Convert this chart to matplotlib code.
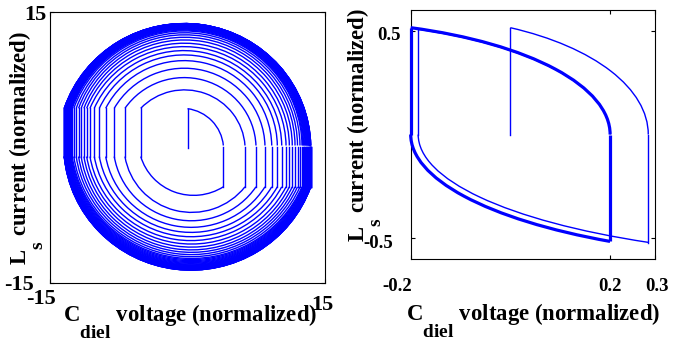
import numpy as np
import matplotlib
matplotlib.use("Agg")
import matplotlib.pyplot as plt
from matplotlib.patches import Arc
from matplotlib.transforms import ScaledTranslation

# ---------------- data: left panel (spiral start-up transient) ----------------
start_top = 4.3                 # first vertical from origin ends here
start_mid = (3.18, 2.3)         # a point on the first arc
right_x = [3.91, 6.27, 7.47, 8.45, 9.19, 9.80, 10.28, 10.75, 11.11, 11.43,
           11.73, 12.00, 12.27, 12.49, 12.58, 12.67, 12.75, 12.83, 12.90,
           12.97, 13.03, 13.09, 13.14, 13.19, 13.23, 13.27, 13.30, 13.33,
           13.355, 13.375, 13.39, 13.405, 13.415, 13.425, 13.43, 13.435, 13.44]
left_x = [-5.10, -6.82, -7.99, -8.92, -9.62, -10.17, -10.64, -11.00, -11.30,
          -11.60, -11.88, -12.14, -12.40, -12.57, -12.66, -12.74, -12.82,
          -12.89, -12.96, -13.02, -13.08, -13.13, -13.18, -13.22, -13.26,
          -13.29, -13.32, -13.345, -13.365, -13.38, -13.395, -13.41, -13.42,
          -13.43, -13.435, -13.44, -13.445]
top_y = [4.30, 6.37, 7.73, 8.77, 9.61, 10.24, 10.72, 11.16, 11.54, 11.90,
         12.20, 12.47, 12.70, 12.90, 13.00, 13.09, 13.17, 13.24, 13.31, 13.37,
         13.42, 13.47, 13.51, 13.55, 13.58, 13.61, 13.63, 13.65, 13.665,
         13.68, 13.69, 13.70, 13.705, 13.71, 13.713, 13.716, 13.72]
bottom_y = [-5.26, -7.17, -8.10, -8.83, -9.39, -9.87, -10.30, -10.68, -11.02,
            -11.33, -11.60, -11.85, -12.08, -12.28, -12.40, -12.52, -12.63,
            -12.73, -12.82, -12.91, -12.99, -13.06, -13.13, -13.19, -13.25,
            -13.30, -13.35, -13.39, -13.43, -13.46, -13.49, -13.51, -13.53,
            -13.545, -13.555, -13.56, -13.565]
right_arc_end = 0.22    # y where top arcs meet the right clamp
right_top = 0.08        # right clamp segment: from here ...
right_bottom = -4.35    # ... down to here
left_bottom = -1.0      # left clamp segment: from here ...
left_top = 4.34         # ... up to here

# ---------------- data: right panel (limit cycle) ----------------
# vertical segments: (x, y_from, y_to)
rp_start_vert = (0.0, 0.0, 0.515)
rp_trans_verts = [(0.2765, 0.0, -0.521), (-0.185, 0.0, 0.507)]
rp_cycle_verts = [(0.2, 0.0, -0.515), (-0.2, 0.0, 0.515)]
# elliptic arcs: (center_x, center_y, semi_x, semi_y, start_xy, end_xy), clockwise
rp_trans_arcs = [(-0.2, 0.0, 0.4765, 0.567, (0.0, 0.515), (0.2765, 0.0)),
                 (0.7, 0.0, 0.885, 0.592, (0.2765, -0.521), (-0.185, 0.0)),
                 (-0.4, 0.0, 0.6, 0.543, (-0.185, 0.507), (0.2, 0.0))]
rp_cycle_arcs = [(0.6, 0.0, 0.8, 0.595, (0.2, -0.515), (-0.2, 0.0)),
                 (-0.4, 0.0, 0.6, 0.546, (-0.2, 0.515), (0.2, 0.0))]

left_ticks = [-15, 15]
left_ticklabels = ["-15", "15"]
right_xticks = [-0.2, 0.2, 0.29]
right_xticklabels = ["-0.2", "0.2", "0.3"]
right_yticks = [-0.5, 0.5]
right_yticklabels = ["-0.5", "0.5"]
xlabel_text = r"C$_{\mathrm{diel}}$ voltage (normalized)"
ylabel_text = r"L$_{\mathrm{s}}$ current (normalized)"

# ---------------- style ----------------
try:  # large, deeply dropped subscripts as in the original figure
    import matplotlib._mathtext as _mt
    _mt.SHRINK_FACTOR = 0.85
    _mt.FontConstantsBase.sub1 = 1.55
except Exception:
    pass

plt.rcParams["font.family"] = ["Liberation Serif", "DejaVu Serif"]
plt.rcParams["font.weight"] = "bold"
plt.rcParams["axes.labelweight"] = "bold"
plt.rcParams["font.size"] = 16.4
plt.rcParams["mathtext.fontset"] = "custom"
plt.rcParams["mathtext.rm"] = "Liberation Serif:bold"
plt.rcParams["mathtext.it"] = "Liberation Serif:italic:bold"
plt.rcParams["mathtext.bf"] = "Liberation Serif:bold"
plt.rcParams["axes.unicode_minus"] = False

BLUE = "#0000ff"
W, H = 674, 340
fig = plt.figure(figsize=(W / 100, H / 100), dpi=100)


def px_axes(l, r, t, b):
    return fig.add_axes([l / W, 1 - b / H, (r - l) / W, (b - t) / H])


def circle3(p1, p2, p3):
    (ax_, ay), (bx, by), (cx, cy) = p1, p2, p3
    d = 2 * (ax_ * (by - cy) + bx * (cy - ay) + cx * (ay - by))
    ux = ((ax_**2 + ay**2) * (by - cy) + (bx**2 + by**2) * (cy - ay) + (cx**2 + cy**2) * (ay - by)) / d
    uy = ((ax_**2 + ay**2) * (cx - bx) + (bx**2 + by**2) * (ax_ - cx) + (cx**2 + cy**2) * (bx - ax_)) / d
    return ux, uy, np.hypot(ax_ - ux, ay - uy)


def cw_arc(ax, p_start, p_mid, p_end, lw):
    ux, uy, r = circle3(p_start, p_mid, p_end)
    t_start = np.degrees(np.arctan2(p_start[1] - uy, p_start[0] - ux))
    t_end = np.degrees(np.arctan2(p_end[1] - uy, p_end[0] - ux))
    ax.add_patch(Arc((ux, uy), 2 * r, 2 * r, theta1=t_end, theta2=t_start,
                     color=BLUE, lw=lw))


def ell_arc(ax, spec, lw, clip=True):
    cx, cy, a, b, ps, pe = spec
    t_start = np.degrees(np.arctan2(ps[1] - cy, ps[0] - cx))
    t_end = np.degrees(np.arctan2(pe[1] - cy, pe[0] - cx))
    ax.add_patch(Arc((cx, cy), 2 * a, 2 * b, theta1=t_end, theta2=t_start,
                     color=BLUE, lw=lw, clip_on=clip, zorder=3))


def shift_labels(labels, offsets):
    for lab, (dx, dy) in zip(labels, offsets):
        lab.set_transform(lab.get_transform() +
                          ScaledTranslation(dx / 100, -dy / 100, fig.dpi_scale_trans))


def style_axes(ax, tsize):
    for s in ax.spines.values():
        s.set_linewidth(0.8)
    ax.tick_params(direction="in", length=3, width=0.8, top=True, right=True,
                   labelsize=tsize)


def place_labels(ax, l, r, t, b, xl_xy, yl_xy):
    ax.set_xlabel(xlabel_text)
    ax.xaxis.label.set(va="baseline", ha="center")
    ax.xaxis.set_label_coords((xl_xy[0] - l) / (r - l), (b - xl_xy[1]) / (b - t))
    ax.set_ylabel(ylabel_text)
    ax.yaxis.label.set(va="baseline", ha="center", rotation_mode="anchor")
    ax.yaxis.set_label_coords((yl_xy[0] - l) / (r - l), (b - yl_xy[1]) / (b - t))


# ---------------- left panel ----------------
L0, R0, T0, B0 = 50, 325, 12, 283
axL = px_axes(L0, R0, T0, B0)
LW = 1.0
axL.plot([0, 0], [0, start_top], color=BLUE, lw=LW)
n = len(right_x)
for k in range(n):
    if k == 0:
        cw_arc(axL, (0.0, start_top), start_mid, (right_x[0], right_arc_end), LW)
    else:
        cw_arc(axL, (left_x[k - 1], left_top), (0.0, top_y[k]),
               (right_x[k], right_arc_end), LW)
    axL.plot([right_x[k], right_x[k]], [right_top, right_bottom], color=BLUE, lw=LW)
    cw_arc(axL, (right_x[k], right_bottom), (0.0, bottom_y[k]),
           (left_x[k], left_bottom), LW)
    axL.plot([left_x[k], left_x[k]], [left_bottom, left_top], color=BLUE, lw=LW)

axL.set_xlim(-15, 15)
axL.set_ylim(-15, 15)
axL.set_xticks(left_ticks, left_ticklabels)
axL.set_yticks(left_ticks, left_ticklabels)
style_axes(axL, 16)
axL.tick_params(axis="x", pad=4)
axL.tick_params(axis="y", pad=2.4)
shift_labels(axL.get_xticklabels(), [(-9, 0), (-3, 6)])
shift_labels(axL.get_yticklabels(), [(-13, 0), (0, 0)])
place_labels(axL, L0, R0, T0, B0, (190, 322), (27, 148))

# ---------------- right panel ----------------
L1, R1, T1, B1 = 410.7, 655, 10, 259
axR = px_axes(L1, R1, T1, B1)
TW, CW = 1.0, 2.3
x, y0, y1 = rp_start_vert
axR.plot([x, x], [y0, y1], color=BLUE, lw=TW, clip_on=False, zorder=3)
for x, y0, y1 in rp_trans_verts:
    axR.plot([x, x], [y0, y1], color=BLUE, lw=TW, clip_on=False, zorder=3)
for spec in rp_trans_arcs:
    ell_arc(axR, spec, TW, clip=False)
for x, y0, y1 in rp_cycle_verts:
    axR.plot([x, x], [y0, y1], color=BLUE, lw=CW, clip_on=False, zorder=3,
             solid_capstyle="butt")
for spec in rp_cycle_arcs:
    ell_arc(axR, spec, CW, clip=False)

axR.set_xlim(-0.2, 0.29)
axR.set_ylim(-0.6, 0.6)
axR.set_xticks(right_xticks, right_xticklabels)
axR.set_yticks(right_yticks, right_yticklabels)
style_axes(axR, 13.5)
axR.tick_params(axis="x", pad=13.5)
axR.tick_params(axis="y", pad=7.5)
shift_labels(axR.get_xticklabels(), [(-14, 0), (0, 0), (2, 0)])
shift_labels(axR.get_yticklabels(), [(-7, 3), (0, 3)])
place_labels(axR, L1, R1, T1, B1, (533, 321), (365, 125))

fig.savefig("out.png", dpi=100)
